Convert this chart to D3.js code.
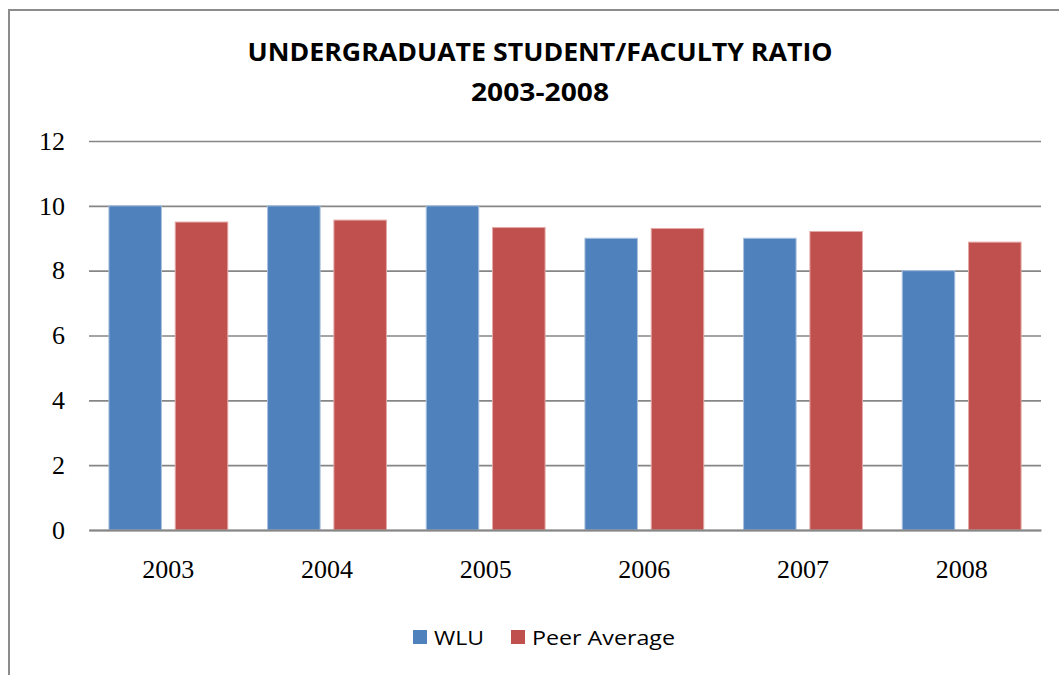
<!DOCTYPE html>
<html>
<head>
<meta charset="utf-8">
<script src="https://cdn.jsdelivr.net/npm/d3@7"></script>
<style>
  body { margin: 0; background: #fff; }
  svg { display: block; }
</style>
</head>
<body>
<svg id="chart"></svg>
<script>
/* data */
const years = ['2003', '2004', '2005', '2006', '2007', '2008'];
const wlu = [10, 10, 10, 9, 9, 8];
const peerAverage = [9.5, 9.56, 9.33, 9.3, 9.21, 8.88];
const seriesNames = ['WLU', 'Peer Average'];
const yTicks = [0, 2, 4, 6, 8, 10, 12];

const COLORS = ['#4F81BD', '#C0504D'];
const STROKES = ['#a9c0de', '#e3a8a6'];

const W = 1059, H = 675;
const margin = { top: 141, right: 18, bottom: 145, left: 89 };
const width = W - margin.left - margin.right;
const height = H - margin.top - margin.bottom;

const svg = d3.select('#chart').attr('width', W).attr('height', H);

// frame
svg.append('rect')
  .attr('x', 9).attr('y', 10)
  .attr('width', W + 10).attr('height', H + 10)
  .attr('fill', 'none')
  .attr('stroke', '#8c8c8c')
  .attr('stroke-width', 2);

// title
const title = svg.append('text')
  .attr('text-anchor', 'middle')
  .style('font-family', '"Open Sans", sans-serif')
  .style('font-weight', 'bold')
  .style('font-size', '25px')
  .attr('fill', '#000');
title.append('tspan').attr('x', 540).attr('y', 61)
  .attr('textLength', 585).attr('lengthAdjust', 'spacingAndGlyphs')
  .text('UNDERGRADUATE STUDENT/FACULTY RATIO');
title.append('tspan').attr('x', 540).attr('y', 101)
  .attr('textLength', 138).attr('lengthAdjust', 'spacingAndGlyphs')
  .text('2003-2008');

const g = svg.append('g')
  .attr('transform', 'translate(' + margin.left + ',' + margin.top + ')');

const x = d3.scaleBand().domain(years).range([0, width]).padding(0);
const y = d3.scaleLinear().domain([0, 12]).range([height, 0]);

const barW = x.bandwidth() * 0.331;
const gap = x.bandwidth() * 0.087;

const tickFont = '"Liberation Serif", "Times New Roman", serif';

// gridlines
const yAxis = d3.axisLeft(y).tickValues(yTicks).tickSize(-width).tickPadding(24).tickFormat(d3.format('d'));
g.append('g').call(yAxis)
  .call(a => a.select('.domain').remove())
  .call(a => a.selectAll('line')
    .attr('stroke', '#868686').attr('stroke-width', 1.6))
  .call(a => a.selectAll('text')
    .style('font-family', tickFont)
    .style('font-size', '26px')
    .attr('fill', '#000'));

// bars
[wlu, peerAverage].forEach((vals, s) => {
  g.selectAll('.bar' + s)
    .data(vals)
    .enter().append('rect')
    .attr('class', 'bar' + s)
    .attr('x', (d, i) => x(years[i]) + x.bandwidth() / 2 + (s === 0 ? -gap / 2 - barW : gap / 2))
    .attr('y', d => y(d))
    .attr('width', barW)
    .attr('height', d => height - y(d))
    .attr('fill', COLORS[s])
    .attr('stroke', STROKES[s])
    .attr('stroke-width', 1);
});

// baseline
const xAxis = d3.axisBottom(x).tickSize(0).tickPadding(30);
g.append('g').attr('transform', 'translate(0,' + height + ')').call(xAxis)
  .call(a => a.select('.domain').attr('stroke', '#868686').attr('stroke-width', 2.2))
  .call(a => a.selectAll('text')
    .style('font-family', tickFont)
    .style('font-size', '26px')
    .attr('fill', '#000'));

// legend
const legendX = [413, 511];
const leg = svg.append('g');
seriesNames.forEach((name, i) => {
  leg.append('rect')
    .attr('x', legendX[i]).attr('y', 630)
    .attr('width', 14).attr('height', 14)
    .attr('fill', COLORS[i]);
  leg.append('text')
    .attr('x', legendX[i] + 21).attr('y', 645)
    .style('font-family', '"Open Sans", sans-serif')
    .style('font-size', '20px')
    .attr('textLength', i === 0 ? 50 : 143)
    .attr('lengthAdjust', 'spacingAndGlyphs')
    .attr('fill', '#000')
    .text(name);
});
</script>
</body>
</html>
